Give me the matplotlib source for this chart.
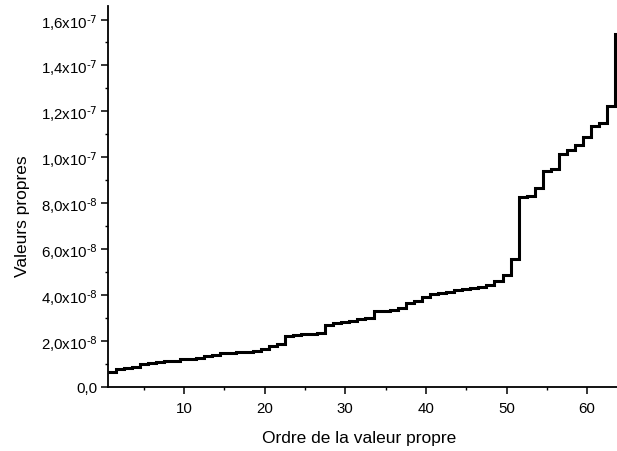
import numpy as np
import matplotlib
matplotlib.use("Agg")
import matplotlib.pyplot as plt
from matplotlib.ticker import MultipleLocator, FuncFormatter

# Eigenvalues (units of 1e-8), ordered
eigen_e8 = [0.63, 0.77, 0.80, 0.84, 1.00, 1.04, 1.07, 1.12, 1.14, 1.20,
            1.22, 1.25, 1.35, 1.37, 1.45, 1.48, 1.50, 1.53, 1.56, 1.64,
            1.76, 1.85, 2.22, 2.26, 2.28, 2.30, 2.32, 2.70, 2.78, 2.83,
            2.88, 2.93, 2.99, 3.28, 3.32, 3.36, 3.42, 3.65, 3.75, 3.90,
            4.05, 4.08, 4.12, 4.20, 4.26, 4.32, 4.36, 4.45, 4.62, 4.85,
            5.56, 8.28, 8.33, 8.67, 9.38, 9.48, 10.12, 10.33, 10.53, 10.90,
            11.35, 11.48, 12.22, 15.37]
values = np.array(eigen_e8) * 1e-8
order = np.arange(1, len(values) + 1)
edges = np.append(order - 0.5, order[-1] + 0.5)

plt.rcParams['font.family'] = ['Liberation Sans', 'DejaVu Sans']
plt.rcParams['mathtext.default'] = 'regular'
plt.rcParams['axes.unicode_minus'] = False

fig = plt.figure(figsize=(6.17, 4.52), dpi=100)
ax = fig.add_axes([107.5 / 617, 64.3 / 452, 1 - 107.5 / 617, (445 - 64.3) / 452])

ax.stairs(values, edges, baseline=None, color='black', linewidth=2.2)

ax.set_xlim(0.5, 63.7)
ax.set_ylim(0, 1.659e-7)

ax.spines['top'].set_visible(False)
ax.spines['right'].set_visible(False)
for s in ('left', 'bottom'):
    ax.spines[s].set_linewidth(1.3)

ax.xaxis.set_major_locator(MultipleLocator(10))
ax.xaxis.set_minor_locator(MultipleLocator(5))
ax.yaxis.set_major_locator(MultipleLocator(2e-8))
ax.yaxis.set_minor_locator(MultipleLocator(1e-8))


def yfmt(v, pos):
    if abs(v) < 1e-20:
        return "0,0"
    e = int(np.floor(np.log10(abs(v)) + 1e-9))
    m = v / 10 ** e
    ms = f"{m:.1f}".replace('.', ',')
    return ms + r"x10$^{\text{" + str(e) + r"}}$"


ax.yaxis.set_major_formatter(FuncFormatter(yfmt))

ax.tick_params(which='major', direction='out', length=5, width=1.1, labelsize=10.8, colors='black')
ax.tick_params(which='minor', direction='out', length=2.5, width=1.0)
ax.tick_params(axis='y', pad=2.2)
ax.tick_params(axis='x', pad=5)

ax.set_xlabel("Ordre de la valeur propre", fontsize=12.5)
ax.set_ylabel("Valeurs propres", fontsize=12.5)
ax.xaxis.set_label_coords(0.494, -0.115)
ax.yaxis.set_label_coords(-0.152, 0.451)

fig.savefig("out.png", dpi=100)
